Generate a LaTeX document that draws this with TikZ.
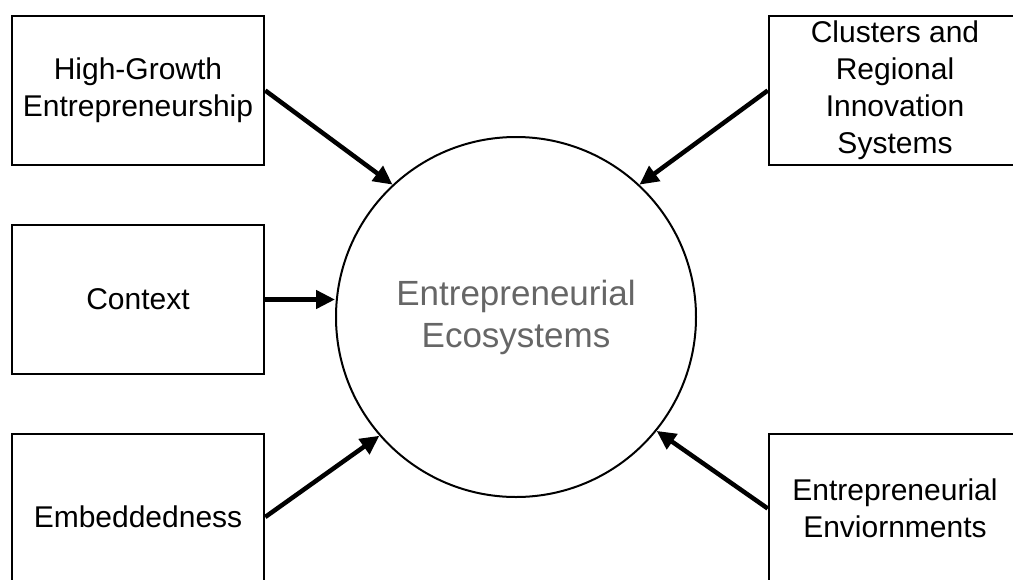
\documentclass[tikz,border=0pt]{standalone}
\usepackage{fontspec}
\setmainfont{Liberation Sans}
\usetikzlibrary{arrows.meta}
\begin{document}
\begin{tikzpicture}[x=1pt,y=-1pt,
  box/.style={draw,line width=2.5pt,inner sep=0pt,minimum width=252pt,minimum height=149pt,
    align=center,font=\fontsize{30}{37}\selectfont},
  feed/.style={line width=4.5pt,-{Triangle[length=19pt,width=18pt]}}]
\useasboundingbox (0,0) rectangle (1013,579);
% centre
\node[draw,circle,line width=2pt,minimum size=360pt,text=black!60,align=center,
  font=\fontsize{35}{42}\selectfont] (eco) at (516,317) {Entrepreneurial\\Ecosystems};
% left column
\node[box] (hg) at (138,90.5) {High-Growth\\Entrepreneurship};
\node[box] (ctx) at (138,299.5) {Context};
\node[box,minimum height=166pt] (emb) at (138,517) {Embeddedness};
% right column
\node[box] (clu) at (895,90.5) {Clusters and\\Regional\\Innovation\\Systems};
\node[box] (env) at (895,508.5) {Entrepreneurial\\Enviornments};
% arrows into the circle
\draw[feed] (hg.east) -- (eco.133);
\draw[feed] (ctx.east) -- (ctx.east -| eco.west);
\draw[feed] (emb.east) -- (eco.221);
\draw[feed] (clu.west) -- (eco.47);
\draw[feed] (env.west) -- (eco.321);
\end{tikzpicture}
\end{document}
